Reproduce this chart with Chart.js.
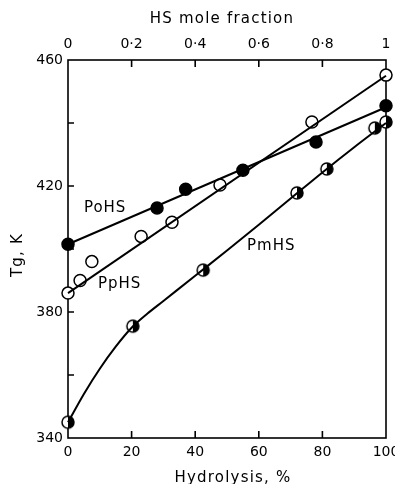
<!DOCTYPE html>
<html><head><meta charset="utf-8">
<script src="https://cdn.jsdelivr.net/npm/chart.js@4"></script>
<style>html,body{margin:0;padding:0;background:#fff}</style>
</head><body>
<canvas id="c" width="395" height="484"></canvas>
<script>
// ---- data ----
const xTicks = [0, 20, 40, 60, 80, 100];
const topTicks = [0, 0.2, 0.4, 0.6, 0.8, 1];
const yTickLabels = [340, 380, 420, 460];
const yMinorTicks = [360, 380, 400, 420, 440];

const pohsX = [0, 28, 37, 55, 78, 100];
const pohsY = [401.5, 413, 419, 425, 434, 445.5];
const pphsX = [0, 3.8, 7.5, 23, 32.7, 47.8, 76.7, 100];
const pphsY = [386, 390, 396, 404, 408.5, 420.3, 440.3, 455.2];
const pmhsX = [0, 20.4, 42.5, 72, 81.4, 96.5, 100];
const pmhsY = [345, 375.5, 393.3, 417.8, 425.4, 438.4, 440.3];

const pohsFitX = [0, 100];
const pohsFitY = [401.5, 445];
const pphsFitX = [0, 100];
const pphsFitY = [386, 455];
const pmhsFitX = [0, 5, 10, 15, 20, 25, 30, 40, 50, 60, 70, 80, 90, 100];
const pmhsFitY = [345, 354, 362, 369, 375, 379.5, 383.5, 391.5, 399.5, 407.7, 416, 424.3, 432.3, 440];

const seriesLabels = [
  {text: 'PoHS', x: 5, y: 412.9},
  {text: 'PpHS', x: 9.4, y: 389},
  {text: 'PmHS', x: 56.3, y: 400.8}
];
const xTitle = 'Hydrolysis, %';
const topTitle = 'HS mole fraction';
const yTitle = 'Tg, K';

const FONT = {family: 'DejaVu Sans', size: 14};
const zip = (xs, ys) => xs.map((x, i) => ({x: x, y: ys[i]}));

function halfMarker(r) {
  const c = document.createElement('canvas');
  const s = 2 * r + 4; c.width = c.height = s;
  const g = c.getContext('2d'); const m = s / 2;
  g.fillStyle = '#fff'; g.beginPath(); g.arc(m, m, r, 0, 2 * Math.PI); g.fill();
  g.fillStyle = '#000'; g.beginPath(); g.arc(m, m, r, -Math.PI / 2, Math.PI / 2); g.closePath(); g.fill();
  g.lineWidth = 1.5; g.strokeStyle = '#000'; g.beginPath(); g.arc(m, m, r, 0, 2 * Math.PI); g.stroke();
  return c;
}

const framePlugin = {
  id: 'frame',
  beforeDatasetsDraw(chart) {
    const {ctx, chartArea: a, scales} = chart;
    ctx.save();
    ctx.strokeStyle = '#000'; ctx.lineWidth = 1.6;
    ctx.strokeRect(a.left, a.top, a.right - a.left, a.bottom - a.top);
    ctx.beginPath();
    xTicks.slice(1, -1).forEach(v => { const px = scales.x.getPixelForValue(v); ctx.moveTo(px, a.bottom); ctx.lineTo(px, a.bottom - 7); });
    topTicks.slice(1, -1).forEach(v => { const px = scales.x2.getPixelForValue(v); ctx.moveTo(px, a.top); ctx.lineTo(px, a.top + 7); });
    yMinorTicks.forEach(v => { const py = scales.y.getPixelForValue(v); ctx.moveTo(a.left, py); ctx.lineTo(a.left + 6, py); });
    ctx.stroke();
    ctx.fillStyle = '#000';
    ctx.letterSpacing = '1px';
    ctx.font = '15px "DejaVu Sans"'; ctx.textBaseline = 'middle'; ctx.textAlign = 'left';
    seriesLabels.forEach(l => ctx.fillText(l.text, scales.x.getPixelForValue(l.x), scales.y.getPixelForValue(l.y)));
    ctx.letterSpacing = '1.2px';
    ctx.font = '15px "DejaVu Sans"'; ctx.textAlign = 'center';
    ctx.textBaseline = 'alphabetic';
    ctx.fillText(topTitle, (a.left + a.right) / 2 - 5, 23);
    ctx.fillText(xTitle, (a.left + a.right) / 2 + 6, 482);
    ctx.translate(18, (a.top + a.bottom) / 2 + 6);
    ctx.rotate(-Math.PI / 2);
    ctx.textBaseline = 'middle';
    ctx.fillText(yTitle, 0, 0);
    ctx.restore();
  }
};

const open = {pointStyle: 'circle', pointRadius: 6, pointBackgroundColor: '#fff', pointBorderColor: '#000', pointBorderWidth: 1.5};
const filled = {pointStyle: 'circle', pointRadius: 6, pointBackgroundColor: '#000', pointBorderColor: '#000', pointBorderWidth: 1.5};
const half = {pointStyle: halfMarker(6), pointRadius: 6};
const fit = {showLine: true, pointRadius: 0, borderColor: '#000', borderWidth: 2, fill: false};

const noPad = s => { s.paddingLeft = 0; s.paddingRight = 0; };

new Chart(document.getElementById('c'), {
  type: 'scatter',
  data: {datasets: [
    Object.assign({label: 'PoHS fit', data: zip(pohsFitX, pohsFitY)}, fit),
    Object.assign({label: 'PpHS fit', data: zip(pphsFitX, pphsFitY)}, fit),
    Object.assign({label: 'PmHS fit', data: zip(pmhsFitX, pmhsFitY), cubicInterpolationMode: 'monotone'}, fit),
    Object.assign({label: 'PoHS', data: zip(pohsX, pohsY)}, filled),
    Object.assign({label: 'PpHS', data: zip(pphsX, pphsY)}, open),
    Object.assign({label: 'PmHS', data: zip(pmhsX, pmhsY)}, half)
  ].map(d => Object.assign(d, {clip: false, xAxisID: 'x', yAxisID: 'y'}))},
  options: {
    responsive: false, animation: false, devicePixelRatio: 1,
    layout: {padding: {left: 0, right: 9, top: 0, bottom: 0}},
    plugins: {legend: {display: false}, tooltip: {enabled: false}},
    scales: {
      x: {
        type: 'linear', position: 'bottom', min: 0, max: 100,
        afterBuildTicks: s => { s.ticks = xTicks.map(v => ({value: v})); },
        afterFit: s => { s.height = 46; noPad(s); },
        grid: {display: false, drawTicks: false}, border: {display: false},
        ticks: {font: FONT, color: '#000', padding: 6, maxRotation: 0, autoSkip: false},
        title: {display: false}
      },
      x2: {
        type: 'linear', position: 'top', min: 0, max: 1,
        afterBuildTicks: s => { s.ticks = topTicks.map(v => ({value: v})); },
        afterFit: s => { s.height = 60; noPad(s); },
        grid: {display: false, drawTicks: false}, border: {display: false},
        ticks: {font: FONT, color: '#000', padding: 7, maxRotation: 0, autoSkip: false,
          callback: v => (v === 0 ? '0' : v === 1 ? '1' : v.toFixed(1).replace('.', '·'))},
        title: {display: false}
      },
      y: {
        type: 'linear', position: 'left', min: 340, max: 460,
        afterBuildTicks: s => { s.ticks = yTickLabels.map(v => ({value: v})); },
        afterFit: s => { s.width = 68; },
        grid: {display: false, drawTicks: false}, border: {display: false},
        ticks: {font: FONT, color: '#000', padding: 5, autoSkip: false},
        title: {display: false}
      }
    }
  },
  plugins: [framePlugin]
});
</script>
</body></html>
